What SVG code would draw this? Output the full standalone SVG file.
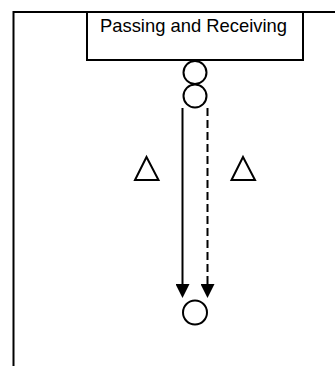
<svg xmlns="http://www.w3.org/2000/svg" width="335" height="366" viewBox="0 0 335 366">
<style>
.ln{stroke:#000;stroke-width:2;fill:none}
.sh{stroke:#000;stroke-width:2;fill:#fff}
.lbl{font-family:"Liberation Sans",Arial,sans-serif;font-size:18.4px;fill:#000}
</style>
<defs>
<marker id="ah" markerWidth="14" markerHeight="14" viewBox="0 0 14 14" refX="0" refY="7" orient="auto" markerUnits="userSpaceOnUse">
<path d="M0,0 L14,7 L0,14 Z" fill="#000"/>
</marker>
</defs>
<rect width="335" height="366" fill="#fff"/>
<g id="frame">
<path class="ln" d="M13.5,366 V12 H335"/>
</g>
<g id="title">
<rect class="sh" x="87" y="12" width="216" height="48"/>
<text class="lbl" x="193.5" y="31.5" text-anchor="middle">Passing and Receiving</text>
</g>
<g id="player-top1"><circle class="sh" cx="195" cy="72.5" r="11.5"/></g>
<g id="player-top2"><circle class="sh" cx="195" cy="96" r="11.5"/></g>
<g id="defender-left"><polygon class="sh" points="146.5,157 135,180 158.5,180"/></g>
<g id="defender-right"><polygon class="sh" points="243,157 231.5,180 255,180"/></g>
<g id="player-bottom"><circle class="sh" cx="195" cy="312.5" r="12"/></g>
<g id="connectors">
<line x1="182.5" y1="108" x2="182.5" y2="284" stroke="#000" stroke-width="2" marker-end="url(#ah)"/>
<line x1="207.5" y1="108" x2="207.5" y2="284" stroke="#000" stroke-width="2" stroke-dasharray="8,4" marker-end="url(#ah)"/>
</g>
</svg>
